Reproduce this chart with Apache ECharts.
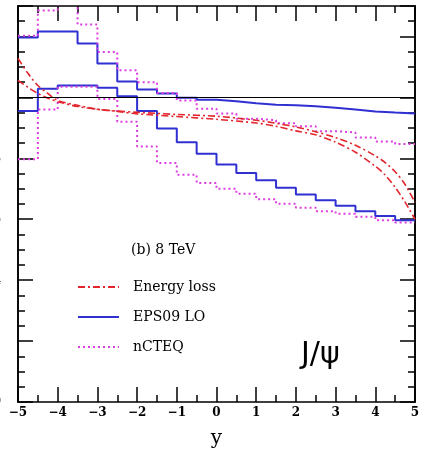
<!DOCTYPE html>
<html>
<head>
<meta charset="utf-8">
<script src="https://cdn.jsdelivr.net/npm/echarts@6/dist/echarts.min.js"></script>
<style>html,body{margin:0;padding:0;background:#fff;}#c{width:425px;height:454px;}</style>
</head>
<body>
<div id="c"></div>
<script>
// ---- data ----
var binEdges = [-5, -4.5, -4, -3.5, -3, -2.5, -2, -1.5, -1, -0.5, 0, 0.5, 1, 1.5, 2, 2.5, 3, 3.5, 4, 4.5];
var binEnd = 5;
var eps09Upper = [1.197, 1.216, 1.216, 1.177, 1.111, 1.052, 1.026, 1.013, 0.999, 0.992, 0.987, 0.981, 0.976, 0.974, 0.971, 0.966, 0.960, 0.954, 0.950, 0.947];
var eps09Lower = [0.955, 1.028, 1.039, 1.039, 1.032, 1.004, 0.955, 0.898, 0.853, 0.815, 0.780, 0.752, 0.728, 0.703, 0.681, 0.662, 0.644, 0.626, 0.611, 0.597];
var nctEqUpper = [1.202, 1.285, 1.340, 1.239, 1.149, 1.089, 1.050, 1.014, 0.990, 0.963, 0.947, 0.930, 0.925, 0.915, 0.905, 0.889, 0.885, 0.868, 0.855, 0.847];
var nctEqLower = [0.797, 0.960, 1.035, 1.035, 0.995, 0.920, 0.839, 0.785, 0.746, 0.719, 0.700, 0.684, 0.666, 0.651, 0.638, 0.626, 0.618, 0.608, 0.597, 0.589];
var elossX     = [-5, -4.75, -4.5, -4.25, -4, -3.5, -3, -2.5, -2, -1, 0, 1, 1.5, 2, 2.5, 3, 3.5, 4, 4.25, 4.5, 4.75, 5];
var elossUpper = [1.128, 1.079, 1.039, 1.013, 0.990, 0.974, 0.961, 0.955, 0.951, 0.944, 0.938, 0.925, 0.915, 0.903, 0.887, 0.868, 0.843, 0.808, 0.786, 0.756, 0.714, 0.655];
var elossLower = [1.056, 1.033, 1.013, 0.997, 0.986, 0.970, 0.961, 0.954, 0.946, 0.937, 0.928, 0.916, 0.905, 0.890, 0.877, 0.853, 0.820, 0.774, 0.745, 0.705, 0.656, 0.600];
var refLine = 1;

// ---- build ----
function hist(vals) {
  var d = vals.map(function (v, i) { return [binEdges[i], v]; });
  d.push([binEnd, vals[vals.length - 1]]);
  return d;
}
function curve(ys) { return ys.map(function (v, i) { return [elossX[i], v]; }); }

var RED = '#e3262e', BLUE = '#3030d2', MAG = '#dd3ee0';
var serif = 'DejaVu Serif';
var chart = echarts.init(document.getElementById('c'), null, {renderer: 'canvas'});

function xAx(pos) {
  return {
    type: 'value', min: -5, max: 5, interval: 1, position: pos,
    axisLine: {show: true, onZero: false, lineStyle: {color: '#000', width: 1.6}},
    axisTick: {show: true, inside: true, length: 15, lineStyle: {color: '#000', width: 1.5}},
    minorTick: {show: true, splitNumber: 2, length: 7, lineStyle: {color: '#000', width: 1.5}},
    splitLine: {show: false},
    axisLabel: pos === 'bottom' ? {
      show: true, margin: 5, color: '#000', fontFamily: serif, fontWeight: 'bold', fontSize: 12,
      formatter: function (v) { return String(v).replace('-', '\u2212'); }
    } : {show: false},
    name: pos === 'bottom' ? 'y' : '', nameLocation: 'middle', nameGap: 27,
    nameTextStyle: {fontFamily: serif, fontSize: 20, color: '#000'}
  };
}
function yAx(pos, interval, len, labels) {
  return {
    type: 'value', min: 0, max: 1.3, interval: interval, position: pos,
    axisLine: {show: true, onZero: false, lineStyle: {color: '#000', width: 1.6}},
    axisTick: {show: true, inside: true, length: len, lineStyle: {color: '#000', width: 1.5}},
    splitLine: {show: false},
    axisLabel: labels ? {
      show: true, margin: 17, color: '#000', fontFamily: serif, fontWeight: 'bold', fontSize: 13,
      formatter: function (v) { return v > 1.25 ? '' : (Math.round(v * 10) / 10).toString(); }
    } : {show: false}
  };
}

var option = {
  animation: false,
  backgroundColor: '#fff',
  grid: {left: 18, right: 10, top: 6, bottom: 52, containLabel: false, outerBoundsMode: 'none'},
  xAxis: [xAx('bottom'), xAx('top')],
  yAxis: [yAx('left', 0.2, 15, true), yAx('left', 0.05, 7, false), yAx('right', 0.2, 15, false), yAx('right', 0.05, 7, false)],
  legend: {
    orient: 'vertical', left: 72, top: 275, itemWidth: 41, itemHeight: 14, itemGap: 16,
    data: ['Energy loss', 'EPS09 LO', 'nCTEQ'],
    itemStyle: {opacity: 0},
    textStyle: {fontFamily: serif, fontSize: 14, color: '#000', padding: [0, 0, 0, 9]},
    selectedMode: false
  },
  graphic: [
    {type: 'text', left: 131, top: 243, style: {text: '(b) 8 TeV', fontFamily: serif, fontSize: 14, fill: '#000'}},
    {type: 'text', left: 301, top: 340, style: {text: 'J/\u03c8', fontFamily: 'DejaVu Sans', fontSize: 30, fill: '#000'}}
  ],
  series: [
    {name: 'EPS09 LO', type: 'line', step: 'end', symbol: 'none', data: hist(eps09Upper),
     lineStyle: {color: BLUE, width: 2}, itemStyle: {color: BLUE},
     markLine: {silent: true, symbol: 'none', label: {show: false}, lineStyle: {color: '#000', width: 1, type: 'solid'}, data: [{yAxis: refLine}]}},
    {name: 'EPS09 LO', type: 'line', step: 'end', symbol: 'none', data: hist(eps09Lower),
     lineStyle: {color: BLUE, width: 2}, itemStyle: {color: BLUE}},
    {name: 'nCTEQ', type: 'line', step: 'end', symbol: 'none', data: hist(nctEqUpper),
     lineStyle: {color: MAG, width: 2, type: [2, 3]}, itemStyle: {color: MAG}},
    {name: 'nCTEQ', type: 'line', step: 'end', symbol: 'none', data: hist(nctEqLower),
     lineStyle: {color: MAG, width: 2, type: [2, 3]}, itemStyle: {color: MAG}},
    {name: 'Energy loss', type: 'line', smooth: 0.3, symbol: 'none', data: curve(elossUpper),
     lineStyle: {color: RED, width: 1.6, type: [7, 3, 2, 3]}, itemStyle: {color: RED}},
    {name: 'Energy loss', type: 'line', smooth: 0.3, symbol: 'none', data: curve(elossLower),
     lineStyle: {color: RED, width: 1.6, type: [7, 3, 2, 3]}, itemStyle: {color: RED}}
  ]
};
chart.setOption(option);
</script>
</body>
</html>
